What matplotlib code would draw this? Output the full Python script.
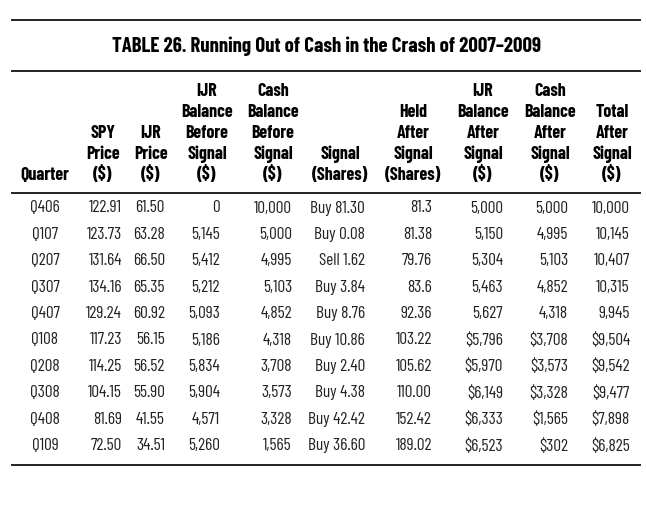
import matplotlib.pyplot as plt

plt.rcParams['font.family'] = ['Barlow Condensed', 'DejaVu Sans']

title = 'TABLE 26. Running Out of Cash in the Crash of 2007–2009'

headers = [
    ['Quarter'],
    ['SPY', 'Price', '($)'],
    ['IJR', 'Price', '($)'],
    ['IJR', 'Balance', 'Before', 'Signal', '($)'],
    ['Cash', 'Balance', 'Before', 'Signal', '($)'],
    ['Signal', '(Shares)'],
    ['Held', 'After', 'Signal', '(Shares)'],
    ['IJR', 'Balance', 'After', 'Signal', '($)'],
    ['Cash', 'Balance', 'After', 'Signal', '($)'],
    ['Total', 'After', 'Signal', '($)'],
]

quarters = ['Q406', 'Q107', 'Q207', 'Q307', 'Q407', 'Q108', 'Q208', 'Q308', 'Q408', 'Q109']
spy_price = ['122.91', '123.73', '131.64', '134.16', '129.24', '117.23', '114.25', '104.15', '81.69', '72.50']
ijr_price = ['61.50', '63.28', '66.50', '65.35', '60.92', '56.15', '56.52', '55.90', '41.55', '34.51']
ijr_before = ['0', '5,145', '5,412', '5,212', '5,093', '5,186', '5,834', '5,904', '4,571', '5,260']
cash_before = ['10,000', '5,000', '4,995', '5,103', '4,852', '4,318', '3,708', '3,573', '3,328', '1,565']
signal = ['Buy 81.30', 'Buy 0.08', 'Sell 1.62', 'Buy 3.84', 'Buy 8.76', 'Buy 10.86', 'Buy 2.40', 'Buy 4.38', 'Buy 42.42', 'Buy 36.60']
held_after = ['81.3', '81.38', '79.76', '83.6', '92.36', '103.22', '105.62', '110.00', '152.42', '189.02']
ijr_after = ['5,000', '5,150', '5,304', '5,463', '5,627', '$5,796', '$5,970', '$6,149', '$6,333', '$6,523']
cash_after = ['5,000', '4,995', '5,103', '4,852', '4,318', '$3,708', '$3,573', '$3,328', '$1,565', '$302']
total_after = ['10,000', '10,145', '10,407', '10,315', '9,945', '$9,504', '$9,542', '$9,477', '$7,898', '$6,825']

columns = [quarters, spy_price, ijr_price, ijr_before, cash_before, signal,
           held_after, ijr_after, cash_after, total_after]

# column layout in pixels: header centre, data anchor, data alignment
head_x = [45, 103, 151, 207, 273, 340, 413, 483, 550, 612]
data_x = [45, 122, 165, 220, 292, 365, 432, 503, 568, 630]
data_ha = ['center'] + ['right'] * 9

fig = plt.figure(figsize=(6.46, 5.07), dpi=100)
ax = fig.add_axes([0, 0, 1, 1])
ax.set_xlim(0, 646)
ax.set_ylim(507, 0)
ax.axis('off')

rule = dict(color='#222222', lw=1.4)
ax.plot([12, 640], [20, 20], **rule)
ax.plot([12, 640], [71, 71], **rule)
ax.plot([12, 640], [193, 193], **rule)
ax.plot([12, 640], [465, 465], **rule)

ax.text(326, 46, title, ha='center', va='center', fontsize=15, fontweight='bold')

line_h = 20.8
bottom = 175
for hx, lines in zip(head_x, headers):
    n = len(lines)
    for i, s in enumerate(lines):
        y = bottom - (n - 1 - i) * line_h
        ax.text(hx, y, s, ha='center', va='center', fontsize=13, fontweight='bold')

row_y0 = 208
row_h = 26.4
for col, x, ha in zip(columns, data_x, data_ha):
    for r, s in enumerate(col):
        ax.text(x, row_y0 + r * row_h, s, ha=ha, va='center', fontsize=12.5, color='#222222')

fig.savefig('out.png', dpi=100)
